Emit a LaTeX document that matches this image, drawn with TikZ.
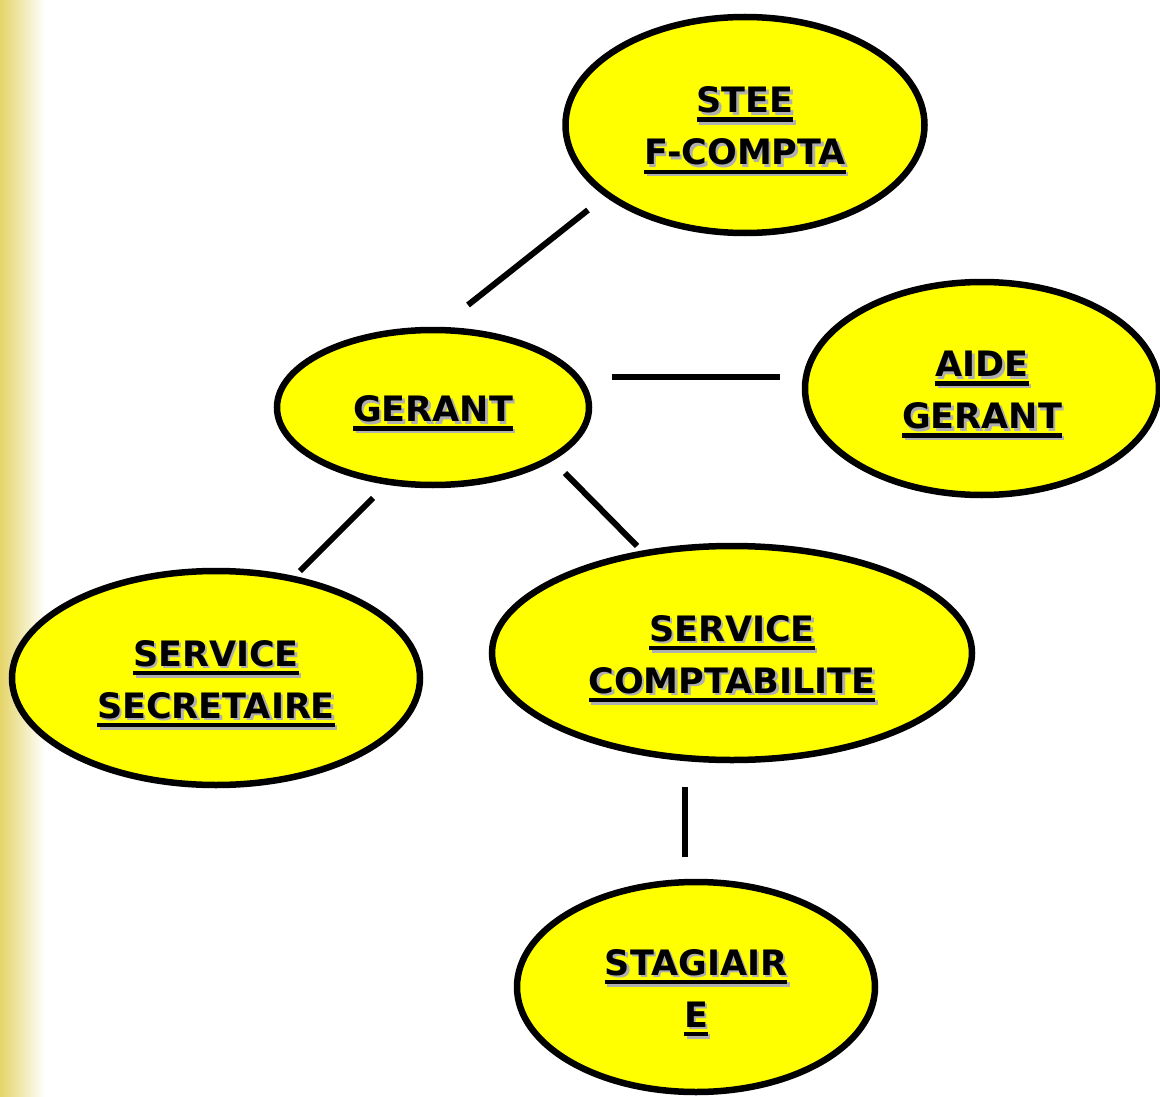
\documentclass[tikz,border=0pt]{standalone}
\usepackage{fontspec}
\usetikzlibrary{shapes.geometric}
\newfontfamily\comicfont{DejaVu Sans}
\definecolor{fillyellow}{RGB}{255,255,0}
\definecolor{shadowgray}{RGB}{175,175,175}
\definecolor{stripyellow}{RGB}{228,212,105}
\newcommand\ulsh[1]{\smash{%
  \setbox0=\hbox{#1}%
  \rlap{\kern2.5pt\raisebox{-2.5pt}{\color{shadowgray}\rlap{\rule[-9pt]{\wd0}{4.5pt}}#1}}%
  \rlap{\rule[-9pt]{\wd0}{4.5pt}}#1}}
\newcommand\tstrut{\rule{0pt}{28pt}}
\tikzset{
  bubble/.style={ellipse, draw=black, line width=6.5pt, fill=fillyellow, inner sep=0pt,
    align=center, font=\comicfont\bfseries\fontsize{35}{52}\selectfont},
  link/.style={draw=black, line width=6pt}
}
\begin{document}
\begin{tikzpicture}[x=1pt,y=-1pt]
\useasboundingbox (0,0) rectangle (1160,1097);
\shade[left color=stripyellow, right color=white] (0,0) rectangle (45,1097);
\node[bubble, minimum width=359pt, minimum height=216pt] (stee) at (745,125) {\tstrut\ulsh{STEE}\\\ulsh{F-COMPTA}};
\node[bubble, minimum width=354pt, minimum height=213pt] (aide) at (982,388.5) {\tstrut\ulsh{AIDE}\\\ulsh{GERANT}};
\node[bubble, minimum width=312pt, minimum height=155pt] (gerant) at (433,407.5) {\tstrut\ulsh{GERANT}};
\node[bubble, minimum width=408pt, minimum height=214pt] (secr) at (216,678) {\tstrut\ulsh{SERVICE}\\\ulsh{SECRETAIRE}};
\node[bubble, minimum width=480pt, minimum height=214pt] (compta) at (732,653) {\tstrut\ulsh{SERVICE}\\\ulsh{COMPTABILITE}};
\node[bubble, minimum width=358pt, minimum height=210pt] (stag) at (696,987) {\tstrut\ulsh{STAGIAIR}\\\ulsh{E}};
\coordinate (a1) at (588,210); \coordinate (a2) at (468,305);
\coordinate (b1) at (612,377); \coordinate (b2) at (780,377);
\coordinate (c1) at (373,498); \coordinate (c2) at (300,571);
\coordinate (d1) at (565,473); \coordinate (d2) at (637,546);
\coordinate (e1) at (685,787); \coordinate (e2) at (685,857);
\draw[link] (a1) -- (a2);
\draw[link] (b1) -- (b2);
\draw[link] (c1) -- (c2);
\draw[link] (d1) -- (d2);
\draw[link] (e1) -- (e2);
\end{tikzpicture}
\end{document}
